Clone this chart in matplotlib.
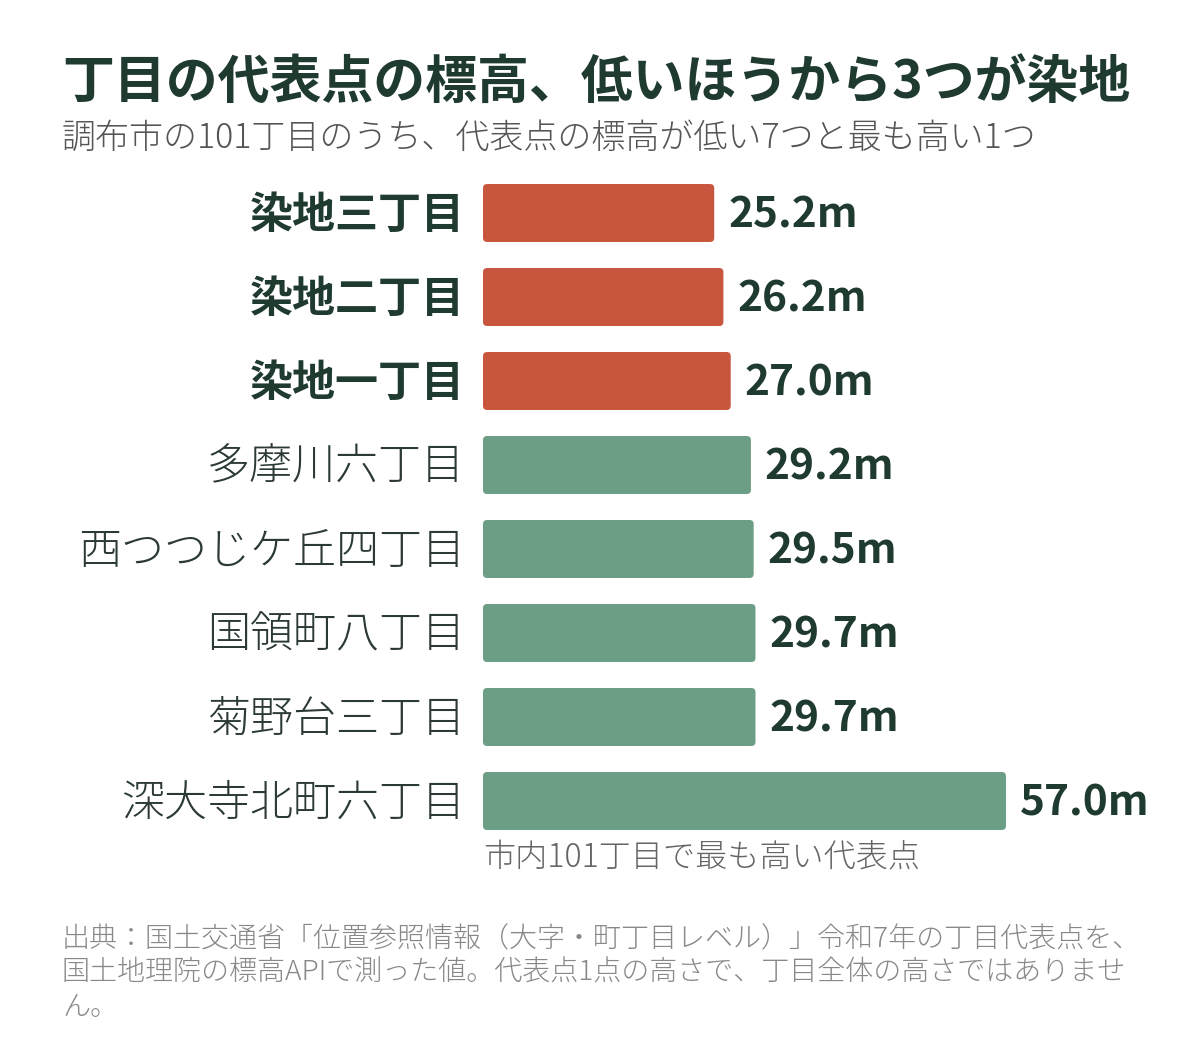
import matplotlib.pyplot as plt
from matplotlib.patches import FancyBboxPatch

plt.rcParams['font.family'] = ['Noto Sans CJK JP', 'DejaVu Sans']

# data
names = ['染地三丁目', '染地二丁目', '染地一丁目', '多摩川六丁目',
         '西つつじケ丘四丁目', '国領町八丁目', '菊野台三丁目', '深大寺北町六丁目']
heights = [25.2, 26.2, 27.0, 29.2, 29.5, 29.7, 29.7, 57.0]
lowest3 = [True, True, True, False, False, False, False, False]

title = '丁目の代表点の標高、低いほうから3つが染地'
subtitle = '調布市の101丁目のうち、代表点の標高が低い7つと最も高い1つ'
note = '市内101丁目で最も高い代表点'
source = ('出典：国土交通省「位置参照情報（大字・町丁目レベル）」令和7年の丁目代表点を、\n'
          '国土地理院の標高APIで測った値。代表点1点の高さで、丁目全体の高さではありませ\n'
          'ん。')

RED = '#c8553d'
GREEN = '#6b9e85'
DARK = '#1f3a2f'

W, H = 1200, 1060
fig = plt.figure(figsize=(W / 100, H / 100), dpi=100)
fig.patch.set_facecolor('white')

# axes placed in pixel terms: x=0 at 483px, 9.175px per metre
px_per_m = 9.175
xmax = 70
left = 483 / W
width = xmax * px_per_m / W
top_px, bot_px = 171, 843
ax = fig.add_axes([left, 1 - bot_px / H, width, (bot_px - top_px) / H])
ax.set_xlim(0, xmax)
ax.set_ylim(len(names) - 0.5, -0.5)
ax.axis('off')

bar_h = 0.69
aspect = px_per_m / 84
for i, (n, v, low) in enumerate(zip(names, heights, lowest3)):
    c = RED if low else GREEN
    p = FancyBboxPatch((0, i - bar_h / 2), v, bar_h,
                       boxstyle='round,pad=0,rounding_size=0.45',
                       mutation_aspect=aspect, fc=c, ec='none')
    ax.add_patch(p)
    ax.annotate(n, (0, i), xytext=(-13, -1.5), textcoords='offset points',
                ha='right', va='center', fontsize=31,
                color=DARK if low else '#2b3a33',
                fontweight='bold' if low else 'light', annotation_clip=False)
    ax.annotate(f'{v:.1f}m', (v, i), xytext=(10, -2), textcoords='offset points',
                ha='left', va='center', fontsize=30.5, color=DARK,
                fontweight='bold', annotation_clip=False)

# note under the tallest bar
ax.annotate(note, (0, len(names) - 1), xytext=(0, -40.5), textcoords='offset points',
            ha='left', va='center', fontsize=23.1, color='#666666',
            fontweight='light', annotation_clip=False)

fig.text(62 / W, 1 - 83 / H, title, ha='left', va='center', fontsize=37.4,
         fontweight='bold', color=DARK)
fig.text(62 / W, 1 - 138 / H, subtitle, ha='left', va='center', fontsize=24.5,
         fontweight='light', color='#555555')
fig.text(62 / W, 1 - 925 / H, source, ha='left', va='top', fontsize=20.2,
         fontweight='light', color='#888888', linespacing=1.28)

fig.savefig('out.png', dpi=100, facecolor='white')
